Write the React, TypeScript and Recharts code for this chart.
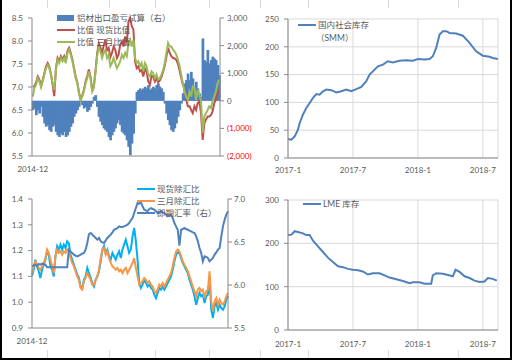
import React from "react";
import { ComposedChart, LineChart, Line, Bar, XAxis, YAxis, CartesianGrid } from "recharts";

const FONT = "Lato, 'Noto Sans CJK SC', sans-serif";
const TXT = "#595959";
const AXIS = "#898989";
const GRID = "#D9D9D9";
const BLUE = "#4F81BD";

// top-left: export profit (right axis) and price ratios, from 2014-12
const exportPnl = [
  -340, -280, -520, -340, -460, -220, -580, -820, -940, -880,
  -1065, -1125, -940, -880, -1125, -1250, -1310, -1190, -1250, -1125,
  -1310, -1250, -1125, -940, -820, -580, -460, -340, -220, -40,
  -160, -280, -220, -400, -340, -220, -100, 145, 205, -220,
  -580, -760, -880, -1000, -1065, -1125, -1310, -1430, -1250, -1125,
  -1000, -820, -700, -880, -1125, -1190, -1250, -1430, -1670, -1970,
  -1550, -1190, -460, 325, 390, 450, 390, 450, 510, 450,
  570, 390, 450, 510, 450, 570, 630, 510, 450, 325,
  -100, -460, -700, -880, -1065, -1125, -1000, -820, -580, -340,
  -100, 270, 630, 750, 990, 750, 1050, 810, 510, 690,
  450, 270, 145, 2260, 1475, 1415, 1840, 1355, 1475, 1600,
  1535, 1475, 1295, 930,
];
const spotRatio = [
  7.0, 7.02, 7.1, 7.23, 7.16, 7.02, 7.15, 7.3, 7.45, 7.52,
  7.44, 7.28, 7.05, 6.8, 7.4, 7.63, 7.56, 7.67, 7.6, 7.67,
  7.56, 7.78, 7.85, 7.74, 7.6, 7.41, 7.22, 7.1, 6.88, 6.72,
  6.82, 6.94, 7.12, 7.24, 7.38, 7.22, 6.92, 7.02, 7.35, 7.73,
  7.95, 7.85, 7.75, 7.9, 8.04, 7.8, 7.85, 7.65, 7.74, 7.88,
  7.81, 7.63, 7.7, 7.92, 7.99, 7.88, 8.1, 7.96, 8.43, 8.5,
  8.32, 8.25, 7.56, 7.41, 7.45, 7.34, 7.37, 7.23, 7.4, 7.33,
  7.12, 7.05, 7.25, 7.22, 7.12, 7.2, 7.1, 7.14, 7.22, 7.33,
  7.46, 7.66, 7.85, 7.74, 7.67, 7.63, 7.62, 7.59, 7.5, 7.36,
  7.2, 7.04, 6.98, 6.72, 6.58, 6.58, 6.5, 6.43, 6.58, 6.5,
  6.65, 6.69, 6.43, 5.85, 6.21, 6.29, 6.36, 6.36, 6.39, 6.47,
  6.65, 6.72, 6.87, 6.94,
];
const threeMonthRatio = [
  6.79, 6.98, 7.05, 7.19, 7.12, 7.0, 7.12, 7.27, 7.41, 7.48,
  7.41, 7.27, 7.08, 6.94, 7.37, 7.59, 7.52, 7.63, 7.56, 7.63,
  7.52, 7.74, 7.81, 7.7, 7.56, 7.37, 7.19, 7.08, 6.87, 6.72,
  6.79, 6.9, 7.08, 7.19, 7.34, 7.19, 6.9, 6.98, 7.3, 7.67,
  7.88, 7.77, 7.63, 7.74, 7.81, 7.63, 7.7, 7.45, 7.52, 7.63,
  7.52, 7.41, 7.48, 7.56, 7.7, 7.63, 7.74, 7.67, 7.96, 8.03,
  7.88, 8.03, 7.63, 7.52, 7.56, 7.45, 7.52, 7.34, 7.52, 7.45,
  7.27, 7.23, 7.34, 7.3, 7.19, 7.27, 7.16, 7.19, 7.27, 7.37,
  7.52, 7.74, 7.96, 7.88, 7.88, 7.81, 7.77, 7.7, 7.59, 7.45,
  7.27, 7.08, 6.9, 6.79, 6.72, 6.9, 6.79, 7.01, 6.98, 6.72,
  6.94, 6.83, 6.69, 6.0, 6.36, 6.43, 6.5, 6.58, 6.54, 6.69,
  6.79, 6.9, 7.08, 7.16,
];

// bottom-left: ratios net of exchange rate, and spot CNY rate (right axis)
const spotExRatio = [
  1.103, 1.126, 1.165, 1.139, 1.12, 1.094, 1.126, 1.145, 1.165, 1.197,
  1.184, 1.139, 1.126, 1.1, 1.178, 1.217, 1.204, 1.223, 1.204, 1.223,
  1.21, 1.236, 1.229, 1.184, 1.165, 1.145, 1.126, 1.107, 1.094, 1.061,
  1.055, 1.087, 1.1, 1.133, 1.113, 1.094, 1.074, 1.061, 1.087, 1.1,
  1.12, 1.158, 1.204, 1.217, 1.191, 1.204, 1.178, 1.165, 1.191, 1.178,
  1.165, 1.184, 1.197, 1.171, 1.204, 1.223, 1.242, 1.217, 1.191, 1.204,
  1.255, 1.288, 1.236, 1.165, 1.074, 1.055, 1.068, 1.087, 1.074, 1.061,
  1.068, 1.055, 1.049, 1.029, 1.016, 1.036, 1.055, 1.049, 1.061, 1.049,
  1.061, 1.074, 1.087, 1.1, 1.126, 1.158, 1.184, 1.193, 1.191, 1.171,
  1.152, 1.139, 1.126, 1.113, 1.087, 1.068, 1.049, 1.023, 0.99, 1.016,
  1.036, 1.023, 1.029, 0.997, 1.023, 1.029, 1.087, 0.971, 0.939, 0.984,
  0.997, 0.971, 0.99, 0.978, 0.971, 0.984, 1.01, 1.023,
];
const threeMonthExRatio = [
  1.113, 1.139, 1.158, 1.145, 1.133, 1.126, 1.139, 1.152, 1.171, 1.204,
  1.191, 1.165, 1.139, 1.113, 1.178, 1.204, 1.191, 1.197, 1.184, 1.197,
  1.191, 1.204, 1.197, 1.171, 1.152, 1.139, 1.12, 1.1, 1.087, 1.055,
  1.049, 1.081, 1.094, 1.113, 1.1, 1.087, 1.068, 1.068, 1.087, 1.1,
  1.126, 1.171, 1.204, 1.21, 1.184, 1.197, 1.171, 1.152, 1.139, 1.133,
  1.126, 1.133, 1.12, 1.126, 1.113, 1.126, 1.133, 1.113, 1.126, 1.139,
  1.152, 1.171, 1.133, 1.1, 1.068, 1.074, 1.081, 1.094, 1.087, 1.074,
  1.081, 1.068, 1.061, 1.042, 1.036, 1.049, 1.068, 1.061, 1.074, 1.061,
  1.074, 1.087, 1.1, 1.113, 1.139, 1.171, 1.197, 1.204, 1.197, 1.178,
  1.158, 1.145, 1.133, 1.12, 1.1, 1.081, 1.061, 1.042, 1.023, 1.049,
  1.055, 1.042, 1.049, 1.016, 1.042, 1.049, 1.12, 1.003, 0.965, 1.003,
  1.016, 0.99, 1.01, 0.997, 0.99, 1.003, 1.023, 1.036,
];
const cnyRate = [
  6.217, 6.229, 6.236, 6.217, 6.244, 6.236, 6.248, 6.244, 6.236, 6.205,
  6.205, 6.205, 6.205, 6.205, 6.205, 6.205, 6.205, 6.205, 6.205, 6.205,
  6.205, 6.205, 6.411, 6.391, 6.372, 6.353, 6.341, 6.333, 6.341, 6.353,
  6.364, 6.372, 6.411, 6.488, 6.593, 6.605, 6.585, 6.566, 6.547, 6.527,
  6.547, 6.508, 6.496, 6.488, 6.519, 6.547, 6.566, 6.585, 6.612, 6.643,
  6.651, 6.663, 6.682, 6.674, 6.674, 6.682, 6.69, 6.702, 6.721, 6.752,
  6.779, 6.837, 6.895, 6.953, 6.946, 6.961, 6.915, 6.876, 6.868, 6.857,
  6.884, 6.895, 6.884, 6.876, 6.857, 6.837, 6.845, 6.857, 6.845, 6.837,
  6.818, 6.798, 6.806, 6.818, 6.779, 6.721, 6.682, 6.643, 6.457, 6.643,
  6.651, 6.663, 6.651, 6.643, 6.632, 6.624, 6.612, 6.605, 6.566, 6.508,
  6.43, 6.372, 6.275, 6.333, 6.326, 6.314, 6.275, 6.295, 6.314, 6.353,
  6.38, 6.411, 6.43, 6.566, 6.682, 6.76, 6.818, 6.857,
];
const leftStartLabel = "2014-12";

// right panels: months since 2017-1
const monthTicks = [0, 6, 12, 18];
const monthLabels = ["2017-1", "2017-7", "2018-1", "2018-7"];

const smmMonth = [
  0, 0.31, 0.62, 0.92, 1.08, 1.38, 1.69, 2.0, 2.31, 2.62,
  2.92, 3.23, 3.54, 4.0, 4.46, 4.92, 5.38, 5.85, 6.31, 6.77,
  7.23, 7.54, 8.0, 8.31, 8.77, 9.23, 9.69, 10.31, 10.92, 11.54,
  12.0, 12.62, 13.08, 13.38, 13.69, 14.0, 14.31, 14.62, 14.92, 15.54,
  16.15, 16.77, 17.38, 18.0, 18.62, 18.92, 19.38,
];
const smmStock = [
  34, 33, 39, 51, 63, 78, 90, 99, 108, 115,
  114, 120, 123, 122, 118, 120, 123, 120, 124, 128,
  138, 150, 159, 165, 168, 174, 172, 175, 176, 175,
  178, 177, 178, 183, 198, 222, 228, 228, 225, 224,
  220, 207, 192, 184, 182, 180, 178,
];

const lmeMonth = [
  0, 0.31, 0.62, 0.92, 1.38, 1.69, 2.0, 2.31, 2.77, 3.23,
  3.69, 4.15, 4.62, 5.08, 5.54, 6.0, 6.46, 6.92, 7.38, 7.85,
  8.46, 8.92, 9.38, 10.0, 10.62, 11.23, 11.54, 12.15, 12.62, 13.23,
  13.38, 13.69, 14.31, 14.77, 15.23, 15.48, 15.85, 16.31, 16.77, 17.23,
  17.69, 18.15, 18.46, 18.92, 19.29,
];
const lmeStock = [
  219, 220, 228, 226, 223, 219, 219, 206, 193, 180,
  167, 157, 147, 145, 141, 139, 138, 135, 128, 131,
  131, 126, 121, 117, 113, 108, 110, 110, 107, 107,
  126, 131, 130, 127, 124, 139, 134, 124, 120, 114,
  111, 112, 120, 118, 114,
];

const p1Data = threeMonthRatio.map((v, i) => ({ i, pnl: exportPnl[i], spot: spotRatio[i], threeM: v }));
const p3Data = spotExRatio.map((v, i) => ({ i, spot: v, threeM: threeMonthExRatio[i], cny: cnyRate[i] }));
const smmData = smmMonth.map((m, i) => ({ m, v: smmStock[i] }));
const lmeData = lmeMonth.map((m, i) => ({ m, v: lmeStock[i] }));

const tickStyle = { fontSize: 8, fill: TXT, fontFamily: FONT };
const cellCols = [47, 109, 155, 209, 260, 308, 388, 458];

function PnlTick(props: any) {
  const { x, y, payload } = props;
  const v = payload.value as number;
  const neg = v < 0;
  const s = neg ? `(${Math.abs(v).toLocaleString("en-US")})` : v.toLocaleString("en-US");
  return (
    <text x={x} y={y} dy={3} textAnchor="start" fill={neg ? "#FF0000" : TXT} fontSize={8} fontFamily={FONT}>
      {s}
    </text>
  );
}

// daily bars in the source sit edge to edge, so widen each one a little
function DenseBar(props: any) {
  const { x, y, width, height, fill } = props;
  if (x == null || y == null || !height) return null;
  const top = Math.min(y, y + height);
  return <rect x={x - 0.3} y={top} width={Math.max(width, 1) + 0.7} height={Math.abs(height)} fill={fill} />;
}

function LegendItem({ x, y, color, bar, label }: { x: number; y: number; color: string; bar?: boolean; label: string }) {
  return (
    <div style={{ position: "absolute", left: x, top: y - 6, height: 12, display: "flex", alignItems: "center", whiteSpace: "nowrap" }}>
      <svg width={18} height={12} style={{ marginRight: 2 }}>
        {bar ? <rect x={0} y={3} width={17} height={6} fill={color} /> : <line x1={0} y1={6} x2={18} y2={6} stroke={color} strokeWidth={2} />}
      </svg>
      <span style={{ fontSize: 8.5, color: TXT, fontFamily: FONT, lineHeight: "12px" }}>{label}</span>
    </div>
  );
}

export default function App() {
  return (
    <div style={{ position: "fixed", left: 0, top: 0, width: 513, height: 362, background: "#fff", overflow: "hidden" }}>
      {cellCols.map((x) => (
        <React.Fragment key={x}>
          <div style={{ position: "absolute", left: x, top: 0, width: 1, height: 8, background: "#DADADA" }} />
          <div style={{ position: "absolute", left: x, top: 350, width: 1, height: 8, background: "#DADADA" }} />
        </React.Fragment>
      ))}
      <div
        style={{
          position: "absolute", left: 0, top: 0, width: 512, height: 360, boxSizing: "border-box",
          borderLeft: "2px solid #000", borderRight: "2px solid #000", borderBottom: "2px solid #000",
        }}
      />

      {/* top-left */}
      <div style={{ position: "absolute", left: 0, top: 0 }}>
        <ComposedChart width={256} height={175} data={p1Data} margin={{ top: 18, right: 0, bottom: 0, left: 0 }} barCategoryGap={0} barGap={0}>
          <XAxis dataKey="i" interval={500} tickFormatter={() => leftStartLabel} axisLine={{ stroke: AXIS }} tickLine={false} tickSize={0} tickMargin={10} tick={tickStyle} height={19} />
          <YAxis yAxisId="l" domain={[5.5, 8.5]} ticks={[5.5, 6, 6.5, 7, 7.5, 8, 8.5]} tickFormatter={(v: number) => v.toFixed(1)} width={32} axisLine={{ stroke: AXIS }} tickLine={{ stroke: AXIS }} tickSize={4} tickMargin={5} tick={tickStyle} />
          <YAxis yAxisId="r" orientation="right" domain={[-2000, 3000]} ticks={[-2000, -1000, 0, 1000, 2000, 3000]} width={36} axisLine={{ stroke: AXIS }} tickLine={{ stroke: AXIS }} tickSize={4} tickMargin={3} tick={<PnlTick />} />
          <Bar yAxisId="r" dataKey="pnl" fill={BLUE} shape={<DenseBar />} isAnimationActive={false} />
          <Line yAxisId="l" dataKey="spot" stroke="#C0504D" strokeWidth={2} dot={false} isAnimationActive={false} />
          <Line yAxisId="l" dataKey="threeM" stroke="#9BBB59" strokeWidth={2} dot={false} isAnimationActive={false} />
        </ComposedChart>
        <LegendItem x={57} y={18} color={BLUE} bar label="铝材出口盈亏试算（右）" />
        <LegendItem x={57} y={30} color="#C0504D" label="比值 现货比值" />
        <LegendItem x={57} y={42} color="#9BBB59" label="比值 三月比值" />
      </div>

      {/* bottom-left */}
      <div style={{ position: "absolute", left: 0, top: 175 }}>
        <LineChart width={256} height={170} data={p3Data} margin={{ top: 24, right: 0, bottom: 0, left: 0 }}>
          <XAxis dataKey="i" interval={500} tickFormatter={() => leftStartLabel} axisLine={{ stroke: AXIS }} tickLine={false} tickSize={0} tickMargin={10} tick={tickStyle} height={17} />
          <YAxis yAxisId="l" domain={[0.9, 1.4]} ticks={[0.9, 1.0, 1.1, 1.2, 1.3, 1.4]} tickFormatter={(v: number) => v.toFixed(1)} width={32} axisLine={{ stroke: AXIS }} tickLine={{ stroke: AXIS }} tickSize={4} tickMargin={5} tick={tickStyle} />
          <YAxis yAxisId="r" orientation="right" domain={[5.5, 7.0]} ticks={[5.5, 6.0, 6.5, 7.0]} tickFormatter={(v: number) => v.toFixed(1)} width={28} axisLine={{ stroke: AXIS }} tickLine={{ stroke: AXIS }} tickSize={4} tickMargin={2} tick={tickStyle} />
          <Line yAxisId="l" dataKey="spot" stroke="#00B0F0" strokeWidth={2} dot={false} isAnimationActive={false} />
          <Line yAxisId="l" dataKey="threeM" stroke="#F79646" strokeWidth={2} dot={false} isAnimationActive={false} />
          <Line yAxisId="r" dataKey="cny" stroke={BLUE} strokeWidth={2} dot={false} isAnimationActive={false} />
        </LineChart>
        <LegendItem x={137} y={14} color="#00B0F0" label="现货除汇比" />
        <LegendItem x={137} y={26} color="#F79646" label="三月除汇比" />
        <LegendItem x={137} y={38} color={BLUE} label="即期汇率（右）" />
      </div>

      {/* top-right */}
      <div style={{ position: "absolute", left: 256, top: 0 }}>
        <LineChart width={256} height={175} data={smmData} margin={{ top: 19, right: 14, bottom: 0, left: 0 }}>
          <CartesianGrid stroke={GRID} />
          <XAxis dataKey="m" type="number" domain={[0, 19.4]} ticks={monthTicks} tickFormatter={(v: number) => monthLabels[monthTicks.indexOf(v)]} axisLine={{ stroke: AXIS }} tickLine={false} tickSize={0} tickMargin={9} tick={tickStyle} height={17} />
          <YAxis domain={[0, 250]} ticks={[0, 50, 100, 150, 200, 250]} width={32} axisLine={{ stroke: AXIS }} tickLine={{ stroke: AXIS }} tickSize={4} tickMargin={5} tick={tickStyle} />
          <Line dataKey="v" stroke={BLUE} strokeWidth={2} dot={false} isAnimationActive={false} />
        </LineChart>
        <LegendItem x={42} y={25} color={BLUE} label="国内社会库存" />
        <div style={{ position: "absolute", left: 60, top: 32, fontSize: 8.5, color: TXT, fontFamily: FONT, lineHeight: "12px", whiteSpace: "nowrap" }}>（SMM）</div>
      </div>

      {/* bottom-right */}
      <div style={{ position: "absolute", left: 256, top: 175 }}>
        <LineChart width={256} height={175} data={lmeData} margin={{ top: 25, right: 14, bottom: 0, left: 0 }}>
          <CartesianGrid stroke={GRID} />
          <XAxis dataKey="m" type="number" domain={[0, 19.4]} ticks={monthTicks} tickFormatter={(v: number) => monthLabels[monthTicks.indexOf(v)]} axisLine={{ stroke: AXIS }} tickLine={false} tickSize={0} tickMargin={11} tick={tickStyle} height={20} />
          <YAxis domain={[0, 300]} ticks={[0, 100, 200, 300]} width={32} axisLine={{ stroke: AXIS }} tickLine={{ stroke: AXIS }} tickSize={4} tickMargin={5} tick={tickStyle} />
          <Line dataKey="v" stroke={BLUE} strokeWidth={2} dot={false} isAnimationActive={false} />
        </LineChart>
        <LegendItem x={47} y={29} color={BLUE} label="LME 库存" />
      </div>
    </div>
  );
}
